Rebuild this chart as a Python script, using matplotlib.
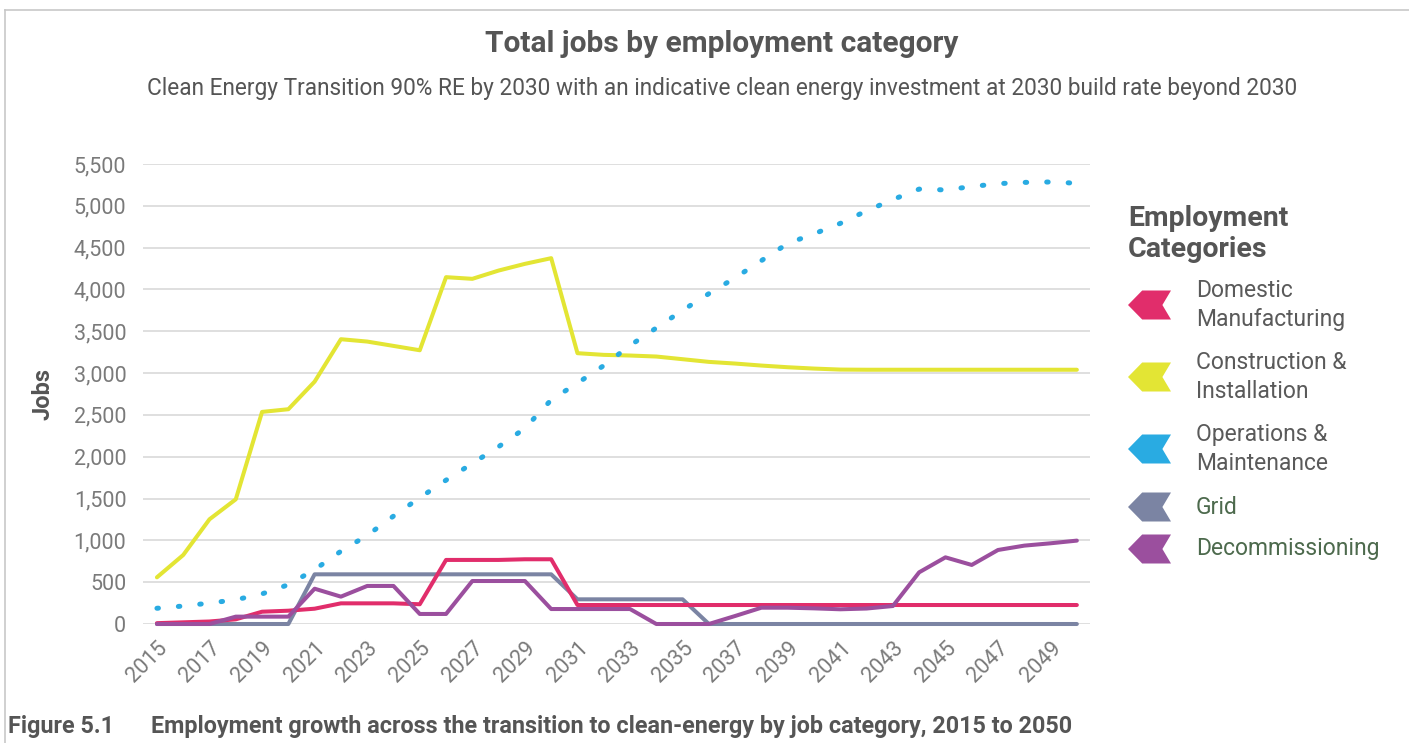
import matplotlib
matplotlib.use("Agg")
import matplotlib.pyplot as plt
from matplotlib.patches import Polygon
from matplotlib.lines import Line2D

years = list(range(2015, 2051))

manufacturing = [10, 20, 30, 56, 147, 159, 183, 247, 247, 247, 236, 766, 766, 766, 774, 774,
                 227, 227, 227, 227, 227, 227, 227, 227, 227, 227, 227, 227, 227, 227, 227, 227,
                 227, 227, 227, 227]
construction = [558, 825, 1252, 1491, 2536, 2568, 2898, 3405, 3377, 3325, 3273, 4147, 4127, 4226,
                4306, 4374, 3238, 3218, 3210, 3198, 3166, 3134, 3114, 3090, 3070, 3054, 3042, 3040,
                3040, 3040, 3040, 3040, 3040, 3040, 3040, 3040]
operations = [188, 215, 250, 290, 360, 470, 650, 870, 1060, 1290, 1510, 1720, 1920, 2120, 2340,
              2680, 2880, 3090, 3330, 3540, 3750, 3950, 4140, 4345, 4550, 4665, 4790, 4940, 5075,
              5200, 5190, 5230, 5265, 5280, 5285, 5270]
grid = [0, 0, 0, 0, 0, 0, 594, 594, 594, 594, 594, 594, 594, 594, 594, 594, 295, 295, 295, 295,
        295, 0, 0, 0, 0, 0, 0, 0, 0, 0, 0, 0, 0, 0, 0, 0]
decommissioning = [0, 0, 0, 88, 88, 88, 422, 327, 455, 455, 120, 120, 514, 514, 514, 179, 179,
                   179, 179, 0, 0, 0, 96, 195, 195, 187, 176, 185, 215, 618, 797, 706, 885, 937,
                   965, 997]

labels = ["Domestic\nManufacturing", "Construction &\nInstallation", "Operations &\nMaintenance",
          "Grid", "Decommissioning"]
colors = ["#e12d6b", "#e3e534", "#29abe2", "#7b84a3", "#9b4f9e"]
label_colors = ["#5a5a5a", "#5a5a5a", "#5a5a5a", "#4d6a4d", "#4d6a4d"]

plt.rcParams['font.family'] = ['Roboto', 'DejaVu Sans']
W, H = 1409, 743
fig = plt.figure(figsize=(W / 100, H / 100), dpi=100)
ax = fig.add_axes([143 / W, 1 - 624 / H, (1090 - 143) / W, (624 - 164) / H])

lw = 2.9
ax.plot(years, construction, color=colors[1], lw=lw, clip_on=False, solid_capstyle='round')
ax.plot(years, operations, color=colors[2], lw=3.6, clip_on=False,
        linestyle=(0, (0.3, 4.0)), dash_capstyle='round')
ax.plot(years, grid, color=colors[3], lw=lw, clip_on=False, solid_capstyle='round')
ax.plot(years, manufacturing, color=colors[0], lw=lw, clip_on=False, solid_capstyle='round')
ax.plot(years, decommissioning, color=colors[4], lw=lw, clip_on=False, solid_capstyle='round')

ax.set_xlim(2014.47, 2050.5)
ax.set_ylim(0, 5500)
ax.set_yticks(range(0, 5501, 500))
ax.set_yticklabels([f"{v:,}" for v in range(0, 5501, 500)])
ax.set_xticks(range(2015, 2050, 2))
ax.set_xticklabels([str(y) for y in range(2015, 2050, 2)], rotation=45,
                   ha='right', va='top', rotation_mode='anchor')
ax.grid(axis='y', color='#dcdcdc', lw=1.3)
ax.set_axisbelow(True)
for s in ax.spines.values():
    s.set_visible(False)
ax.tick_params(axis='both', length=0, labelsize=15.5, labelcolor='#7a7a7a')
ax.tick_params(axis='y', pad=12)
ax.tick_params(axis='x', pad=10)
ax.set_ylabel("Jobs", fontsize=17, fontweight='bold', color='#555555', labelpad=14)

# titles
fig.text(722 / W, 1 - 44 / H, "Total jobs by employment category", ha='center', va='center',
         fontsize=21.5, fontweight='bold', color='#555555')
fig.text(722 / W, 1 - 88 / H,
         "Clean Energy Transition 90% RE by 2030 with an indicative clean energy investment at 2030 build rate beyond 2030",
         ha='center', va='center', fontsize=16.3, color='#555555')

# legend
fig.text(1128 / W, 1 - 234 / H, "Employment\nCategories", ha='left', va='center',
         fontsize=20.5, fontweight='bold', color='#555555', linespacing=1.15)
ys = [305, 377, 449, 507, 549]
for lab, c, tc, yc in zip(labels, colors, label_colors, ys):
    w, h = 43, 29
    x0 = 1128
    pts = [(x0, yc), (x0 + 0.33 * w, yc - h / 2), (x0 + w, yc - h / 2), (x0 + 0.8 * w, yc),
           (x0 + w, yc + h / 2), (x0 + 0.33 * w, yc + h / 2)]
    pts = [(px / W, 1 - py / H) for px, py in pts]
    fig.patches.append(Polygon(pts, closed=True, facecolor=c, edgecolor='none',
                               transform=fig.transFigure, figure=fig))
    fig.text(1196 / W, 1 - yc / H, lab, ha='left', va='center', fontsize=16.5,
             color=tc, linespacing=1.3)

# caption
fig.text(8 / W, 1 - 726 / H, "Figure 5.1", ha='left', va='center', fontsize=16.8,
         fontweight='bold', color='#555555')
fig.text(151 / W, 1 - 726 / H,
         "Employment growth across the transition to clean-energy by job category, 2015 to 2050",
         ha='left', va='center', fontsize=16.8, fontweight='bold', color='#555555')

# frame
fig.lines.append(Line2D([5 / W, 1], [1 - 10 / H, 1 - 10 / H], transform=fig.transFigure,
                        color='#c8c8c8', lw=1.2))
fig.lines.append(Line2D([5 / W, 5 / W], [1 - 10 / H, 0], transform=fig.transFigure,
                        color='#c8c8c8', lw=1.2))

fig.savefig("out.png", dpi=100)
